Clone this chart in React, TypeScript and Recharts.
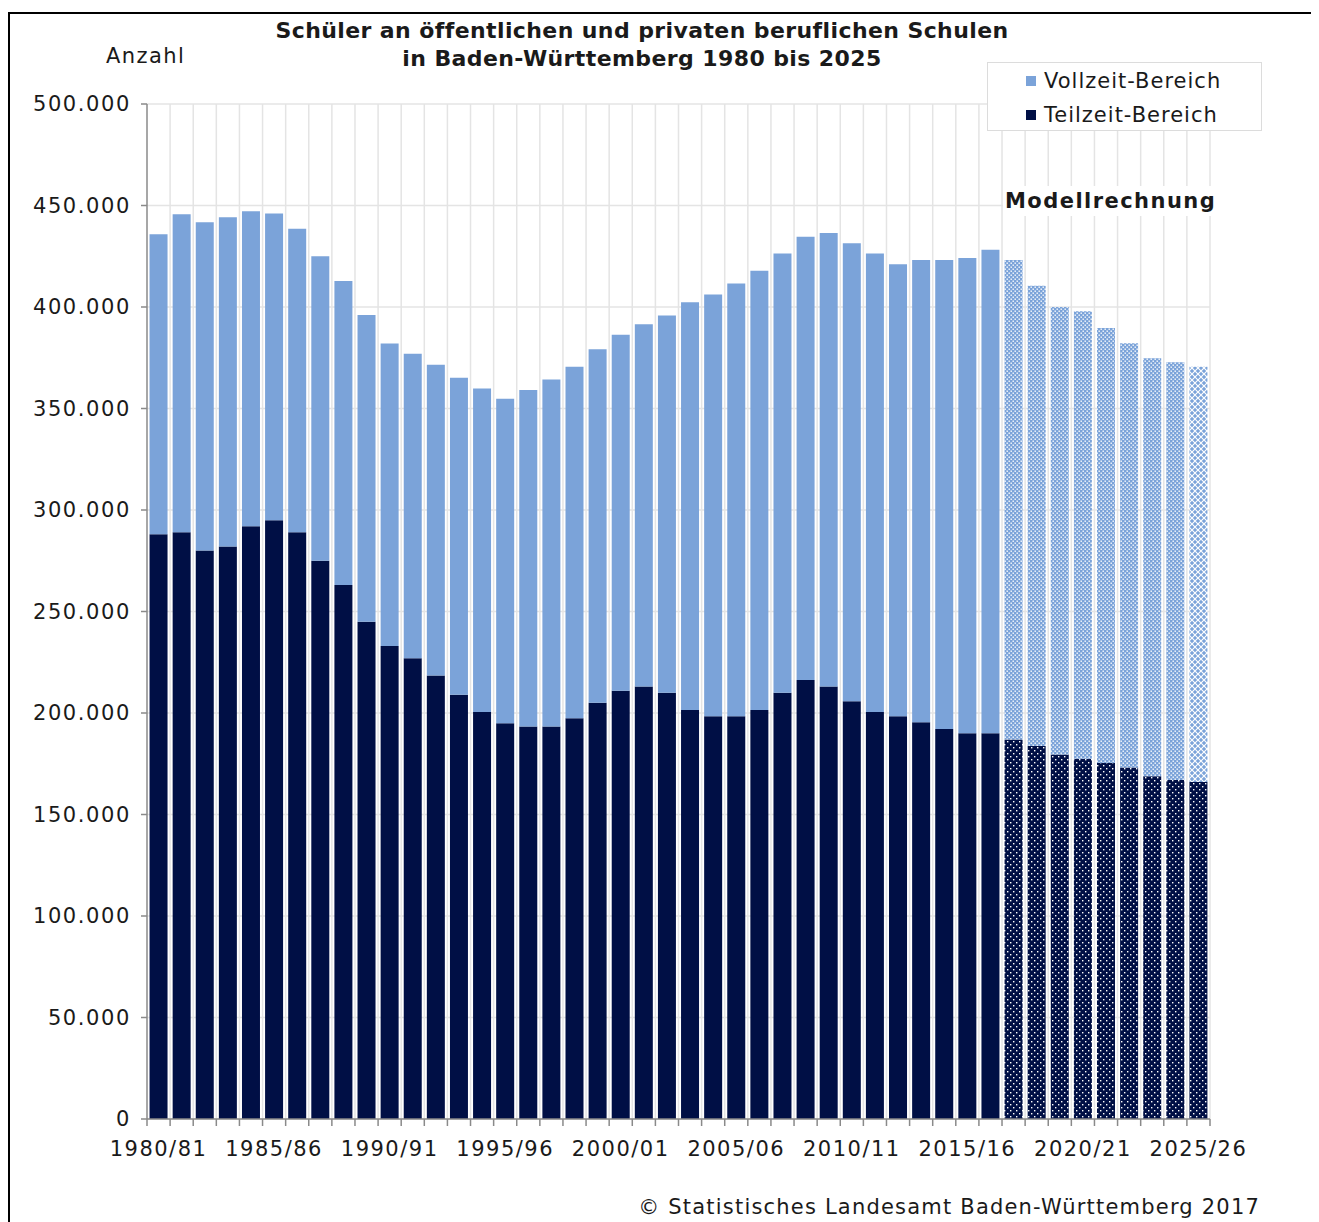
import React from "react";
import { BarChart, Bar, XAxis, YAxis, CartesianGrid, Cell } from "recharts";

const years = [
  "1980/81", "1981/82", "1982/83", "1983/84", "1984/85", "1985/86", "1986/87", "1987/88", "1988/89", "1989/90",
  "1990/91", "1991/92", "1992/93", "1993/94", "1994/95", "1995/96", "1996/97", "1997/98", "1998/99", "1999/00",
  "2000/01", "2001/02", "2002/03", "2003/04", "2004/05", "2005/06", "2006/07", "2007/08", "2008/09", "2009/10",
  "2010/11", "2011/12", "2012/13", "2013/14", "2014/15", "2015/16", "2016/17", "2017/18", "2018/19", "2019/20",
  "2020/21", "2021/22", "2022/23", "2023/24", "2024/25", "2025/26",
];

const teilzeit = [
  288000, 289000, 280000, 282000, 292000, 295000, 289000, 275000, 263000, 245000,
  233000, 227000, 218500, 209000, 200500, 195000, 193300, 193300, 197400, 205000,
  211000, 213000, 210000, 201500, 198400, 198400, 201500, 210000, 216300, 213000,
  205800, 200500, 198400, 195400, 192100, 190000, 190000, 187000, 183700, 179600,
  177500, 175400, 173200, 168800, 167000, 166000,
];

const vollzeit = [
  147800, 156700, 161800, 162200, 155200, 151000, 149600, 150000, 149800, 151000,
  149000, 150000, 153000, 156200, 159400, 159800, 165800, 171000, 173200, 174200,
  175300, 178500, 185800, 200800, 207800, 213200, 216300, 216300, 218300, 223500,
  225600, 225800, 222600, 227800, 231100, 234100, 238200, 236200, 226800, 220400,
  220400, 214300, 208900, 205900, 205800, 204600,
];

const firstProjection = "2017/18";
const yTicks = [0, 50000, 100000, 150000, 200000, 250000, 300000, 350000, 400000, 450000, 500000];
const labelEvery = 5;

const titleLines = [
  "Schüler an öffentlichen und privaten beruflichen Schulen",
  "in Baden-Württemberg 1980 bis 2025",
];
const seriesNames = { vollzeit: "Vollzeit-Bereich", teilzeit: "Teilzeit-Bereich" };

const COL_VOLL = "#7BA3D9";
const COL_TEIL = "#000F45";
const FONT = "'DejaVu Sans', Verdana, sans-serif";
const TXT = "#1a1a1a";
const AXIS = "#8a8a8a";

const projStart = years.indexOf(firstProjection);
const data = years.map((y, i) => ({
  year: y,
  teilzeit: teilzeit[i],
  vollzeit: vollzeit[i],
  proj: i >= projStart,
  last: i === years.length - 1,
}));

const fmt = (v: number) => String(v).replace(/\B(?=(\d{3})+(?!\d))/g, ".");

const XTick = (props: any) => {
  const { x, y, payload, index } = props;
  const half = payload && payload.offset ? payload.offset : 11.5;
  return (
    <g>
      {index === 0 && <line x1={x - half} x2={x - half} y1={y} y2={y + 7} stroke={AXIS} strokeWidth={1.5} />}
      <line x1={x + half} x2={x + half} y1={y} y2={y + 7} stroke={AXIS} strokeWidth={1.5} />
      {index % labelEvery === 0 && (
        <text x={x} y={y + 37} textAnchor="middle" fontFamily={FONT} fontSize={21} fill={TXT} letterSpacing={1.5}>
          {payload.value}
        </text>
      )}
    </g>
  );
};

const LegendBox = () => (
  <div
    style={{
      position: "absolute",
      left: 977,
      top: 48,
      border: "1px solid #dcdcdc",
      background: "#fff",
      width: 275,
      height: 69,
      boxSizing: "border-box",
      paddingLeft: 38,
      paddingTop: 1,
      fontFamily: FONT,
      fontSize: 21,
      color: TXT,
      letterSpacing: 1.0,
    }}
  >
    {[
      { name: seriesNames.vollzeit, color: COL_VOLL },
      { name: seriesNames.teilzeit, color: COL_TEIL },
    ].map((it) => (
      <div key={it.name} style={{ display: "flex", alignItems: "center", height: 34, whiteSpace: "nowrap" }}>
        <span style={{ display: "inline-block", width: 10, height: 10, background: it.color, marginRight: 8 }} />
        {it.name}
      </div>
    ))}
  </div>
);

export default function App() {
  return (
    <div
      style={{
        position: "relative",
        width: 1308,
        height: 1240,
        marginTop: 4,
        border: "2px solid #000",
        boxSizing: "border-box",
        background: "#fff",
        overflow: "hidden",
      }}
    >
      <style>{"html,body{overflow:hidden}"}</style>
      <svg width={0} height={0} style={{ position: "absolute" }}>
        <defs>
          <pattern id="pVoll" patternUnits="userSpaceOnUse" width={4} height={4}>
            <rect width={4} height={4} fill={COL_VOLL} />
            <rect x={0.5} y={0.5} width={1.4} height={1.4} fill="#ffffff" />
            <rect x={2.5} y={2.5} width={1.4} height={1.4} fill="#ffffff" />
          </pattern>
          <pattern id="pVollLast" patternUnits="userSpaceOnUse" width={6} height={6}>
            <rect width={6} height={6} fill={COL_VOLL} />
            <path d="M0,0 L6,6 M6,0 L0,6" stroke="#ffffff" strokeWidth={1.2} />
          </pattern>
          <pattern id="pTeil" patternUnits="userSpaceOnUse" width={6} height={6}>
            <rect width={6} height={6} fill={COL_TEIL} />
            <rect x={1} y={1} width={1.4} height={1.4} fill="#ffffff" />
            <rect x={4} y={4} width={1.4} height={1.4} fill="#ffffff" />
          </pattern>
        </defs>
      </svg>

      <div
        style={{
          position: "absolute",
          left: 0,
          width: 1264,
          top: 3,
          textAlign: "center",
          fontFamily: FONT,
          fontWeight: "bold",
          fontSize: 22,
          lineHeight: "28px",
          color: TXT,
          letterSpacing: 0.4,
        }}
      >
        {titleLines.map((t) => (
          <div key={t}>{t}</div>
        ))}
      </div>

      <div
        style={{
          position: "absolute",
          left: 96,
          top: 30,
          fontFamily: FONT,
          fontSize: 21,
          color: TXT,
          letterSpacing: 1.4,
        }}
      >
        Anzahl
      </div>

      <BarChart
        width={1304}
        height={1200}
        data={data}
        margin={{ top: 90, right: 104, left: 0, bottom: 45 }}
        barCategoryGap="11%"
      >
        <CartesianGrid
          stroke="#e4e4e4"
          strokeWidth={1.5}
          verticalCoordinatesGenerator={({ offset }: any) =>
            years.map((_, i) => offset.left + ((i + 1) * offset.width) / years.length)
          }
        />
        <XAxis
          dataKey="year"
          interval={0}
          tickLine={false}
          tickSize={0}
          tickMargin={0}
          height={50}
          axisLine={{ stroke: AXIS, strokeWidth: 1.5 }}
          tick={<XTick />}
        />
        <YAxis
          width={137}
          domain={[0, 500000]}
          ticks={yTicks}
          tickFormatter={fmt}
          tickSize={6}
          tickMargin={10}
          axisLine={{ stroke: AXIS, strokeWidth: 1.5 }}
          tickLine={{ stroke: AXIS, strokeWidth: 1.5 }}
          tick={{ fontFamily: FONT, fontSize: 21, fill: TXT, letterSpacing: 1.6 }}
        />
        <Bar dataKey="teilzeit" name={seriesNames.teilzeit} stackId="a" fill={COL_TEIL} isAnimationActive={false}>
          {data.map((d) => (
            <Cell key={d.year} fill={d.proj ? "url(#pTeil)" : COL_TEIL} />
          ))}
        </Bar>
        <Bar dataKey="vollzeit" name={seriesNames.vollzeit} stackId="a" fill={COL_VOLL} isAnimationActive={false}>
          {data.map((d) => (
            <Cell key={d.year} fill={d.last ? "url(#pVollLast)" : d.proj ? "url(#pVoll)" : COL_VOLL} />
          ))}
        </Bar>
      </BarChart>

      <LegendBox />

      <div
        style={{
          position: "absolute",
          left: 993,
          top: 172,
          padding: "0 2px",
          background: "#fff",
          fontFamily: FONT,
          fontWeight: "bold",
          fontSize: 21,
          color: TXT,
          letterSpacing: 1.45,
          lineHeight: "30px",
        }}
      >
        Modellrechnung
      </div>

      <div
        style={{
          position: "absolute",
          right: 54,
          top: 1180,
          fontFamily: FONT,
          fontSize: 21,
          lineHeight: "26px",
          color: TXT,
          letterSpacing: 1.2,
          whiteSpace: "nowrap",
        }}
      >
        © Statistisches Landesamt Baden-Württemberg 2017
      </div>
    </div>
  );
}
